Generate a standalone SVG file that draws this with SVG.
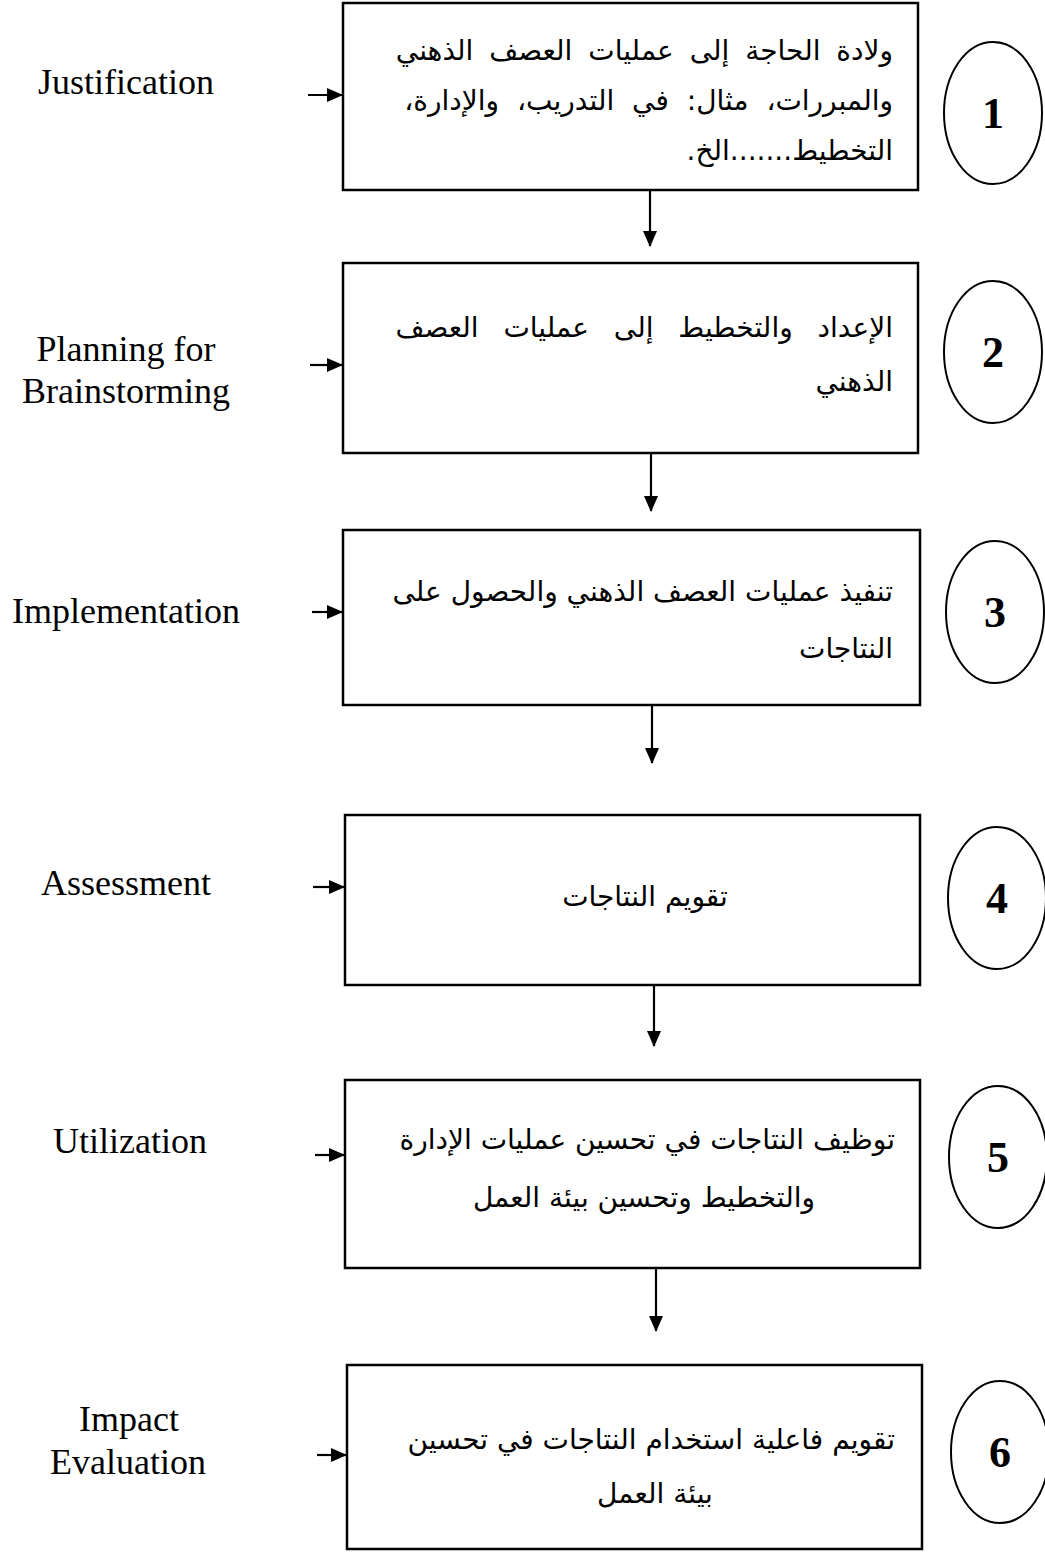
<svg xmlns="http://www.w3.org/2000/svg" width="1045" height="1552" viewBox="0 0 1045 1552">
<style>
.box{fill:#fff;stroke:#000;stroke-width:2.5}
.circ{fill:none;stroke:#000;stroke-width:2}
.num{font-family:"Liberation Serif",serif;font-weight:bold;font-size:44px;text-anchor:middle}
.lbl{font-family:"Liberation Serif",serif;font-size:36px;text-anchor:middle}
.ar{font-family:"DejaVu Sans",sans-serif;font-size:28px;direction:rtl;unicode-bidi:embed;text-anchor:start}
.arc{font-family:"DejaVu Sans",sans-serif;font-size:28px;direction:rtl;unicode-bidi:embed;text-anchor:middle}
.ln{stroke:#000;stroke-width:2.2;fill:none}
</style>
<defs>
<marker id="ah" markerWidth="16" markerHeight="14" refX="15" refY="7" orient="auto" markerUnits="userSpaceOnUse" viewBox="0 0 16 14">
<path d="M0,0 L16,7 L0,14 z" fill="#000"/>
</marker>
</defs>
<rect width="1045" height="1552" fill="#fff"/>
<g id="connectors">
<line class="ln" x1="308" y1="95" x2="342" y2="95" marker-end="url(#ah)"/>
<line class="ln" x1="310" y1="365" x2="342" y2="365" marker-end="url(#ah)"/>
<line class="ln" x1="312" y1="612" x2="342" y2="612" marker-end="url(#ah)"/>
<line class="ln" x1="313" y1="887" x2="344" y2="887" marker-end="url(#ah)"/>
<line class="ln" x1="315" y1="1155" x2="344" y2="1155" marker-end="url(#ah)"/>
<line class="ln" x1="317" y1="1455" x2="346" y2="1455" marker-end="url(#ah)"/>
<line class="ln" x1="650" y1="191" x2="650" y2="246" marker-end="url(#ah)"/>
<line class="ln" x1="651" y1="454" x2="651" y2="511" marker-end="url(#ah)"/>
<line class="ln" x1="652" y1="706" x2="652" y2="763" marker-end="url(#ah)"/>
<line class="ln" x1="654" y1="986" x2="654" y2="1046" marker-end="url(#ah)"/>
<line class="ln" x1="656" y1="1269" x2="656" y2="1331" marker-end="url(#ah)"/>
</g>
<g id="node1">
<text class="lbl" x="126" y="94">Justification</text>
<rect class="box" x="343" y="3" width="575" height="187"/>
<text class="ar" x="893" y="60" word-spacing="7">ولادة الحاجة إلى عمليات العصف الذهني</text>
<text class="ar" x="893" y="110" word-spacing="9">والمبررات، مثال: في التدريب، والإدارة،</text>
<text class="ar" x="893" y="160">التخطيط.......الخ.</text>
<ellipse class="circ" cx="993" cy="113" rx="49" ry="71"/>
<text class="num" x="993" y="128">1</text>
</g>
<g id="node2">
<text class="lbl" x="126" y="361">Planning for</text>
<text class="lbl" x="126" y="403">Brainstorming</text>
<rect class="box" x="343" y="263" width="575" height="190"/>
<text class="ar" x="893" y="337" word-spacing="16">الإعداد والتخطيط إلى عمليات العصف</text>
<text class="ar" x="893" y="391">الذهني</text>
<ellipse class="circ" cx="993" cy="352" rx="49" ry="71"/>
<text class="num" x="993" y="367">2</text>
</g>
<g id="node3">
<text class="lbl" x="126" y="623">Implementation</text>
<rect class="box" x="343" y="530" width="577" height="175"/>
<text class="ar" x="893" y="601">تنفيذ عمليات العصف الذهني والحصول على</text>
<text class="ar" x="893" y="658">النتاجات</text>
<ellipse class="circ" cx="995" cy="612" rx="49" ry="71"/>
<text class="num" x="995" y="627">3</text>
</g>
<g id="node4">
<text class="lbl" x="126" y="895">Assessment</text>
<rect class="box" x="345" y="815" width="575" height="170"/>
<text class="arc" x="645" y="906">تقويم النتاجات</text>
<ellipse class="circ" cx="997" cy="898" rx="49" ry="71"/>
<text class="num" x="997" y="913">4</text>
</g>
<g id="node5">
<text class="lbl" x="130" y="1153">Utilization</text>
<rect class="box" x="345" y="1080" width="575" height="188"/>
<text class="ar" x="895" y="1149">توظيف النتاجات في تحسين عمليات الإدارة</text>
<text class="ar" x="815" y="1207">والتخطيط وتحسين بيئة العمل</text>
<ellipse class="circ" cx="998" cy="1157" rx="49" ry="71"/>
<text class="num" x="998" y="1172">5</text>
</g>
<g id="node6">
<text class="lbl" x="129" y="1431">Impact</text>
<text class="lbl" x="128" y="1474">Evaluation</text>
<rect class="box" x="347" y="1365" width="575" height="184"/>
<text class="ar" x="895" y="1449">تقويم فاعلية استخدام النتاجات في تحسين</text>
<text class="arc" x="655" y="1503">بيئة العمل</text>
<ellipse class="circ" cx="1000" cy="1452" rx="49" ry="71"/>
<text class="num" x="1000" y="1467">6</text>
</g>
</svg>
